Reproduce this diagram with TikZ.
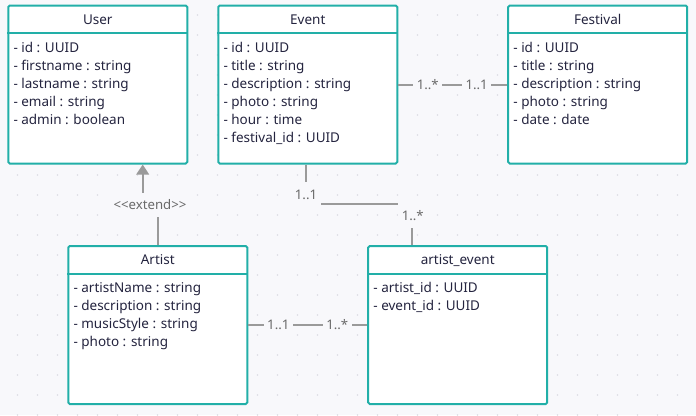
\documentclass[tikz,border=0pt]{standalone}
\usepackage{fontspec}
\setmainfont{Noto Sans}
\usetikzlibrary{calc,arrows.meta}
\definecolor{bg}{HTML}{F8F8FB}
\definecolor{dotc}{HTML}{DCDCE3}
\definecolor{tealb}{HTML}{22AFA8}
\definecolor{ink}{HTML}{24243F}
\definecolor{linec}{HTML}{9A9A9A}
\definecolor{labc}{HTML}{6A6A6A}
\newcommand\umlattrs[2]{\foreach \t [count=\k] in {#2} \node[attr] (#1-a\k) at ($(#1.north west)+(6,47.6+18*\k-18)$) {\t};}
\begin{document}
\begin{tikzpicture}[x=1pt,y=-1pt,
  classbox/.style={draw=tealb, line width=2pt, fill=white, rounded corners=1.5pt, inner sep=0pt, minimum width=179pt, minimum height=158pt},
  title/.style={text=ink, font=\fontsize{13.5}{16}\selectfont, inner sep=0pt, anchor=base},
  attr/.style={text=ink, font=\fontsize{13.5}{16}\selectfont, inner sep=0pt, anchor=base west},
  divider/.style={draw=tealb, line width=2pt},
  conn/.style={draw=linec, line width=2pt},
  mult/.style={text=labc, fill=bg, font=\fontsize{13.2}{15}\selectfont, inner xsep=3.5pt, inner ysep=8pt, text height=9pt, text depth=0pt},
  extlab/.style={text=labc, fill=bg, font=\fontsize{13.2}{15}\selectfont, inner xsep=2pt, inner ysep=7.5pt, text height=9pt, text depth=0pt}
]
\fill[bg] (0,0) rectangle (696,415);
\useasboundingbox (0,0) rectangle (696,415);
\foreach \i in {0,...,33} \foreach \j in {0,...,20} \fill[dotc] (17.5+20*\i,15+20*\j) circle (0.9pt);

% classes
\node[classbox] (user) at (97.8,84.5) {};
\node[classbox] (event) at (307.8,84.5) {};
\node[classbox] (festival) at (597.7,84.5) {};
\node[classbox] (artist) at (157.8,325) {};
\node[classbox] (ae) at (457.7,325) {};

\foreach \c/\n in {user/User,event/Event,festival/Festival,artist/Artist,ae/artist\_event}{
  \draw[divider] ($(\c.north west)+(0,28.6)$) -- ($(\c.north east)+(0,28.6)$);
  \node[title] (\c-t) at ($(\c.north)+(0,19.6)$) {\n};
}
\umlattrs{user}{{- id : UUID},{- firstname : string},{- lastname : string},{- email : string},{- admin : boolean}}
\umlattrs{event}{{- id : UUID},{- title : string},{- description : string},{- photo : string},{- hour : time},{- festival\_id : UUID}}
\umlattrs{festival}{{- id : UUID},{- title : string},{- description : string},{- photo : string},{- date : date}}
\umlattrs{artist}{{- artistName : string},{- description : string},{- musicStyle : string},{- photo : string}}
\umlattrs{ae}{{- artist\_id : UUID},{- event\_id : UUID}}

% connectors
\coordinate (uarr) at ($(user.south west)+(135.4,0)$);
\coordinate (ebot) at ($(event.south)+(-1.8,0)$);
\coordinate (aetop) at ($(ae.north west)+(45,0)$);
\draw[conn, -{Triangle[width=12.5pt,length=10pt]}] (artist.north) |- (uarr |- 0,205) -- (uarr);
\draw[conn] (event.east) -- (festival.west);
\draw[conn] (artist.east) -- (ae.west);
\draw[conn] (ebot) |- (aetop |- 0,204.3) -- (aetop);

% labels
\node[extlab] (ext) at (150,205.3) {<\kern0pt<extend>\kern0pt>};
\node[mult] (m1) at ($(event.east)+(29.5,0)$) {1..*};
\node[mult] (m2) at ($(festival.west)+(-30.5,0)$) {1..1};
\node[mult] (m3) at ($(artist.east)+(30,0)$) {1..1};
\node[mult] (m4) at ($(ae.west)+(-30,0)$) {1..*};
\node[mult] (m5) at (306,194.7) {1..1};
\node[mult] (m6) at (412.7,215.5) {1..*};
\end{tikzpicture}
\end{document}
